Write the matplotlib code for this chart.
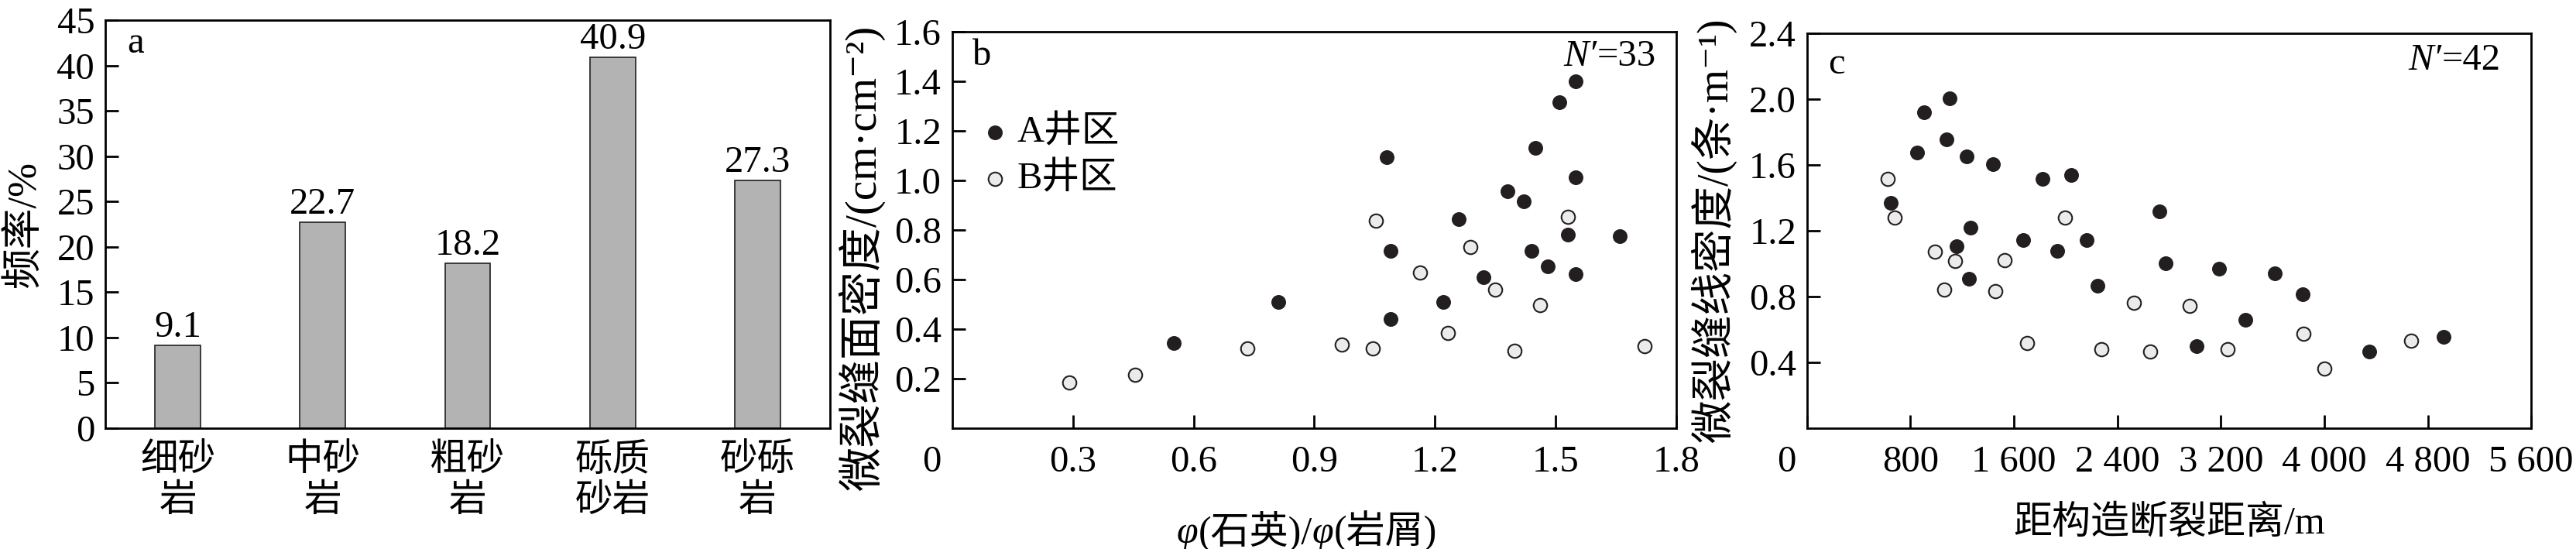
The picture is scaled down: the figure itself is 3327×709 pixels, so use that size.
import matplotlib
matplotlib.use("Agg")
import matplotlib.pyplot as plt
import numpy as np

plt.rcParams["font.family"] = ["Liberation Serif", "Noto Sans CJK SC", "DejaVu Serif"]
plt.rcParams["axes.linewidth"] = 2.0

# panel a: rock type frequency
rock_types = ["细砂\n岩", "中砂\n岩", "粗砂\n岩", "砾质\n砂岩", "砂砾\n岩"]
freq = [9.1, 22.7, 18.2, 40.9, 27.3]

# panel b: quartz/debris ratio vs areal micro-fracture density
b_ratio_A = [0.55, 0.81, 1.08, 1.09, 1.09, 1.26, 1.22, 1.32, 1.38, 1.42, 1.45,
             1.44, 1.48, 1.51, 1.53, 1.55, 1.55, 1.55, 1.66]
b_dens_A = [0.345, 0.51, 1.093, 0.715, 0.44, 0.844, 0.51, 0.611, 0.957, 0.916, 1.131,
            0.715, 0.654, 1.316, 0.783, 1.401, 1.014, 0.623, 0.776]
b_ratio_B = [0.29, 0.455, 0.734, 0.969, 1.045, 1.053, 1.162, 1.232, 1.289, 1.35,
             1.397, 1.462, 1.531, 1.722]
b_dens_B = [0.184, 0.217, 0.322, 0.337, 0.323, 0.838, 0.628, 0.383, 0.733, 0.56,
            0.313, 0.498, 0.852, 0.33]

# panel c: distance to fault vs linear micro-fracture density
c_dist_A = [649, 848, 904, 1081, 1103, 1159, 1237, 1263, 1250, 1440, 1674, 1820,
            1933, 2041, 2162, 2244, 2728, 2776, 3014, 3187, 3390, 3615, 3831, 4350, 4921]
c_dens_A = [1.369, 1.675, 1.921, 1.758, 2.008, 1.106, 1.651, 1.221, 0.909, 1.604,
            1.142, 1.514, 1.078, 1.54, 1.142, 0.868, 1.32, 1.001, 0.5, 0.969, 0.661,
            0.943, 0.813, 0.468, 0.554]
c_dist_B = [623, 679, 986, 1146, 1059, 1453, 1526, 1704, 1993, 2279, 2525, 2651,
            2958, 3252, 3836, 4000, 4674]
c_dens_B = [1.514, 1.279, 1.074, 1.016, 0.845, 0.834, 1.022, 0.518, 1.283, 0.479,
            0.762, 0.468, 0.742, 0.481, 0.575, 0.362, 0.53]

c_ticks = [0, 800, 1600, 2400, 3200, 4000, 4800, 5600]
c_ticklabels = ["", "800", "1 600", "2 400", "3 200", "4 000", "4 800", "5 600"]

FS = 35
DARK = "#231f20"
LIGHT = "#ebebeb"


def n_label(ax, x, y, count):
    # italic N' followed by upright "=count", right aligned
    t = ax.text(x, y, "=%d" % count, transform=ax.transAxes, fontsize=FS,
                ha="right", va="bottom")
    ax.annotate("N′", xy=(0, 0), xycoords=t, ha="right", va="bottom",
                fontsize=FS, fontstyle="italic")


def chain_label(ax, x, y, parts):
    # parts: list of (text, italic) drawn left to right
    prev = None
    for s, it in parts:
        style = "italic" if it else "normal"
        if prev is None:
            prev = ax.text(x, y, s, transform=ax.transAxes, fontsize=FS + 1,
                           ha="left", va="bottom", fontstyle=style)
        else:
            prev = ax.annotate(s, xy=(1, 0), xycoords=prev, ha="left", va="bottom",
                               fontsize=FS + 1, fontstyle=style)


fig = plt.figure(figsize=(33.27, 7.09), dpi=100)
ax_a = fig.add_axes([0.0409, 0.22, 0.2813, 0.743])
ax_b = fig.add_axes([0.3697, 0.22, 0.2810, 0.722])
ax_c = fig.add_axes([0.7015, 0.22, 0.2811, 0.719])

for ax in (ax_a, ax_b, ax_c):
    ax.tick_params(direction="in", length=12, width=2.0, labelsize=FS)
    ax.tick_params(axis="y", pad=10)
    ax.tick_params(axis="x", pad=16)

# --- a ---
x = np.arange(len(rock_types))
bars = ax_a.bar(x, freq, width=0.315, color="#b3b3b3", edgecolor=DARK, linewidth=1.2)
ax_a.bar_label(bars, fmt="%.1f", padding=1, fontsize=FS)
ax_a.set_xlim(-0.5, 4.5)
ax_a.set_ylim(0, 45)
ax_a.set_yticks(np.arange(0, 46, 5))
ax_a.set_xticks(x)
ax_a.set_xticklabels(rock_types)
ax_a.tick_params(axis="x", length=0, pad=14)
ax_a.set_ylabel("频率/%", fontsize=38, va="center")
ax_a.yaxis.set_label_coords(-0.111, 0.5)
ax_a.text(0.042, 0.92, "a", transform=ax_a.transAxes, fontsize=FS, va="baseline", ha="center")

# --- b ---
ax_b.scatter(b_ratio_A, b_dens_A, s=160, color=DARK, edgecolor=DARK, linewidth=1.0,
             label="A井区", zorder=3)
ax_b.scatter(b_ratio_B, b_dens_B, s=160, color=LIGHT, edgecolor=DARK, linewidth=1.5,
             label="B井区", zorder=3)
ax_b.set_xlim(0, 1.8)
ax_b.set_ylim(0, 1.6)
ax_b.set_xticks([0.3, 0.6, 0.9, 1.2, 1.5, 1.8])
ax_b.set_xticklabels(["0.3", "0.6", "0.9", "1.2", "1.5", "1.8"])
ax_b.set_yticks([0.2, 0.4, 0.6, 0.8, 1.0, 1.2, 1.4, 1.6])
ax_b.set_yticklabels(["0.2", "0.4", "0.6", "0.8", "1.0", "1.2", "1.4", "1.6"])
chain_label(ax_b, 0.31, -0.31, [("φ", True), ("(石英)/", False), ("φ", True), ("(岩屑)", False)])
ax_b.set_ylabel("微裂缝面密度/(cm·cm⁻²)", fontsize=41, va="center")
ax_b.yaxis.set_label_coords(-0.125, 0.43)
ax_b.text(0.041, 0.916, "b", transform=ax_b.transAxes, fontsize=FS, va="baseline", ha="center")
n_label(ax_b, 0.972, 0.895, 33)
ax_b.annotate("0", xy=(0, 0), xycoords="axes fraction", xytext=(-19, -16),
              textcoords="offset points", ha="center", va="top", fontsize=FS)
ax_b.legend(loc="upper left", bbox_to_anchor=(0.043, 0.79), frameon=False,
            fontsize=FS, borderaxespad=0, borderpad=0, handlelength=0.6,
            handletextpad=0.3, labelspacing=0.3)

# --- c ---
ax_c.scatter(c_dist_A, c_dens_A, s=160, color=DARK, edgecolor=DARK, linewidth=1.0, zorder=3)
ax_c.scatter(c_dist_B, c_dens_B, s=160, color=LIGHT, edgecolor=DARK, linewidth=1.5, zorder=3)
ax_c.set_xlim(0, 5600)
ax_c.set_ylim(0, 2.4)
ax_c.set_xticks(c_ticks)
ax_c.set_xticklabels(c_ticklabels)
ax_c.set_yticks([0.4, 0.8, 1.2, 1.6, 2.0, 2.4])
ax_c.set_yticklabels(["0.4", "0.8", "1.2", "1.6", "2.0", "2.4"])
ax_c.set_xlabel("距构造断裂距离/m", fontsize=FS + 1)
ax_c.xaxis.set_label_coords(0.5, -0.242)
ax_c.xaxis.label.set_va("center")
ax_c.set_ylabel("微裂缝线密度/(条·m⁻¹)", fontsize=40, va="center")
ax_c.yaxis.set_label_coords(-0.129, 0.5)
ax_c.text(0.041, 0.898, "c", transform=ax_c.transAxes, fontsize=FS, va="baseline", ha="center")
n_label(ax_c, 0.958, 0.889, 42)
ax_c.annotate("0", xy=(0, 0), xycoords="axes fraction", xytext=(-19, -16),
              textcoords="offset points", ha="center", va="top", fontsize=FS)

fig.savefig("out.png", dpi=100)
